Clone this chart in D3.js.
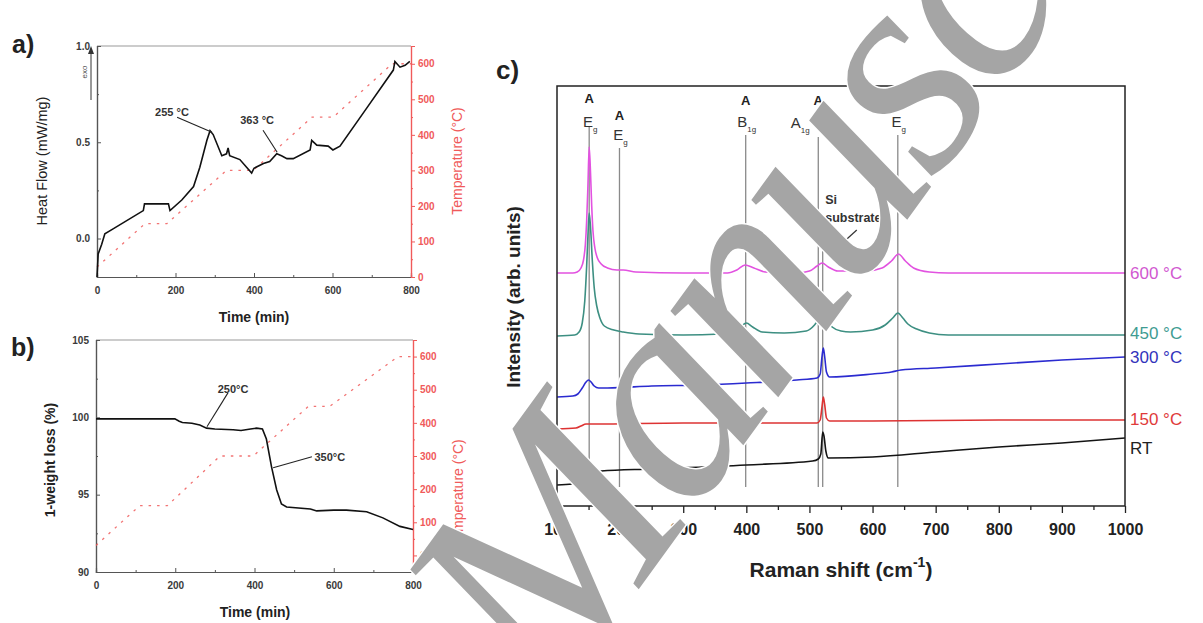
<!DOCTYPE html>
<html><head><meta charset="utf-8">
<script src="https://cdn.jsdelivr.net/npm/d3@7"></script>
<style>
body{margin:0;background:#fff}
svg{display:block}
text{font-family:"Liberation Sans",Arial,sans-serif}
</style>
</head><body>
<svg id="chart" width="1203" height="623"></svg>
<script>
// ---------------- DATA ----------------
// panel a: DSC heat flow (time min, mW/mg)
const heatFlow = [[0,-0.2],[3,-0.08],[12,-0.03],[20,0.025],[41,0.05],[118,0.145],[121,0.18],[182,0.18],[186,0.145],[216,0.2],[246,0.27],[262,0.37],[280,0.51],[288,0.56],[296,0.54],[318,0.43],[330,0.44],[334,0.47],[338,0.43],[364,0.41],[394,0.34],[400,0.365],[424,0.39],[440,0.40],[458,0.44],[470,0.43],[484,0.415],[500,0.415],[543,0.46],[547,0.51],[560,0.485],[589,0.48],[601,0.46],[619,0.48],[688,0.68],[755,0.875],[759,0.92],[772,0.89],[785,0.9],[797,0.92]];
const tempProgramA = [[0,28],[122,150],[178,150],[330,300],[398,300],[548,450],[602,450],[752,600],[800,600]];
// panel b: TGA (time min, %)
const weightLoss = [[0,99.9],[199,99.9],[210,99.75],[218,99.67],[242,99.62],[262,99.5],[279,99.3],[300,99.25],[346,99.2],[366,99.15],[390,99.25],[405,99.3],[420,99.25],[430,98.6],[443,96.8],[456,95.3],[468,94.4],[481,94.2],[541,94.07],[557,93.95],[600,94.0],[632,94.0],[683,93.9],[724,93.5],[767,92.95],[800,92.75]];
const tempProgramB = [[0,30],[110,150],[180,150],[313,300],[397,300],[536,450],[590,450],[762,600],[800,600]];
const timeTicks = [0,200,400,600,800];
const heatTicks = [0,0.5,1.0];
const weightTicks = [90,95,100,105];
const tempTicks = [0,100,200,300,400,500,600];
// annotations [text x, text y, line x1, y1, x2, y2] in data units
const annotA = [{t:"255 °C", p:[191,0.656,204,0.63,293,0.552]},{t:"363 °C", p:[408,0.615,423,0.5625,459,0.448]}];
const annotB = [{t:"250°C", p:[346,101.84,333,101.58,280,99.39]},{t:"350°C", p:[590,97.45,545,97.45,447,96.74]}];

// panel c: Raman spectra (cm-1, arb. units)
const series600 = [[100,233],[125,233],[132,234],[138,238],[142,246],[145,262],[147,285],[149,320],[151,359],[153,335],[155,300],[157,275],[160,258],[164,248],[170,242],[180,238],[195,236],[205,236],[225,234],[300,233],[370,233],[385,236],[398,241],[412,238],[430,234],[480,233],[500,235],[512,240],[520,243],[530,239],[545,235],[590,235],[615,238],[630,245],[641,252],[652,245],[665,238],[690,234],[720,233],[1000,233]];
const series450 = [[100,170],[128,171],[135,174],[140,183],[144,205],[147,240],[149,270],[151,293],[153,280],[156,245],[159,218],[163,200],[168,188],[175,180],[190,176],[205,174],[230,172],[300,171],[360,172],[380,175],[392,180],[400,183],[410,179],[425,174],[460,173],[495,175],[508,181],[515,187],[522,194],[528,186],[536,179],[550,175],[565,174],[600,176],[620,181],[632,188],[640,193],[648,188],[656,182],[670,177],[690,173],[720,171],[1000,171]];
const series300 = [[100,109],[125,110],[133,112],[140,118],[146,124],[150,126],[154,124],[159,120],[166,118],[180,118],[250,120],[330,121],[400,123],[480,126],[512,128],[517,132],[520,150],[522,158],[524,150],[527,134],[532,129],[600,132],[630,134],[645,136],[700,138],[800,142],[900,146],[1000,149]];
const series150 = [[100,77],[130,78],[138,80],[146,82],[160,82],[300,83],[512,83],[517,86],[520,100],[522,109],[524,102],[527,88],[532,85],[600,85],[800,86],[1000,86]];
const seriesRT = [[100,21],[124,22],[132,24],[138,28],[145,32],[152,34],[170,35],[250,37],[400,41],[505,45],[514,47],[518,52],[521,74],[523,70],[526,55],[530,48],[600,49],[700,54],[800,59],[900,63],[1000,68]];
const seriesNames = ["600 °C","450 °C","300 °C","150 °C","RT"];
const seriesLabelLevel = [233,173,149,87,58];
const ramanTicks = [100,200,300,400,500,600,700,800,900,1000];
// anatase modes: shift, main letter, subscript
const modes = [{s:151,m:"E",sub:"g"},{s:199,m:"E",sub:"g"},{s:399,m:"B",sub:"1g"},{s:514,m:"A",sub:"1g",extra:" + B",sub2:"1g"},{s:640,m:"E",sub:"g"}];
const siPeak = 521;

// ---------------- DRAW ----------------
const svg = d3.select("#chart");
const RED = "#f05a5a";

function panelFrame(g, x0, x1, y0, y1){
  g.append("line").attr("x1",x0).attr("x2",x1).attr("y1",y0).attr("y2",y0).attr("stroke","#9a9a9a").attr("stroke-width",1.2);
}
function styleAxis(sel, color, size){
  sel.selectAll("path").attr("stroke",color).attr("stroke-width",1.2);
  sel.selectAll("line").attr("stroke",color);
  sel.selectAll("text").attr("fill",color==="#555"?"#3a3a3a":color).attr("font-size",size).attr("font-weight","bold").attr("font-family","'Liberation Sans',Arial,sans-serif");
}

// ---- Panel a ----
const xA = d3.scaleLinear().domain([0,800]).range([97,411]);
const yA = d3.scaleLinear().domain([-0.2,1.0]).range([277,46]);
const tA = d3.scaleLinear().domain([0,650]).range([277,46]);
const gA = svg.append("g");
panelFrame(gA,97,411,46,277);
gA.append("g").attr("transform","translate(0,277)").call(d3.axisBottom(xA).tickValues([100,300,500,700]).tickSize(-2).tickFormat("")).call(s=>styleAxis(s,"#555",10));
gA.append("g").attr("transform","translate(0,277)").call(d3.axisBottom(xA).tickValues(timeTicks).tickSize(-4).tickPadding(10)).call(s=>styleAxis(s,"#555",10));
gA.append("g").attr("transform","translate(97,0)").call(d3.axisLeft(yA).tickValues([-0.25,0.25,0.75]).tickSize(-2).tickFormat("")).call(s=>styleAxis(s,"#555",10));
gA.append("g").attr("transform","translate(97,0)").call(d3.axisLeft(yA).tickValues(heatTicks).tickFormat(d3.format(".1f")).tickSize(-4).tickPadding(7)).call(s=>styleAxis(s,"#555",10));
gA.append("g").attr("transform","translate(411,0)").call(d3.axisRight(tA).tickValues([50,150,250,350,450,550,650]).tickSize(2).tickFormat("")).call(s=>styleAxis(s,RED,10));
gA.append("g").attr("transform","translate(411,0)").call(d3.axisRight(tA).tickValues(tempTicks).tickSize(4).tickPadding(3)).call(s=>styleAxis(s,RED,10));
gA.append("path").datum(tempProgramA).attr("fill","none").attr("stroke",RED).attr("stroke-width",1.3).attr("stroke-dasharray","2.5,6").attr("opacity",0.85)
  .attr("d",d3.line().x(d=>xA(d[0])).y(d=>tA(d[1])));
gA.append("path").datum(heatFlow).attr("fill","none").attr("stroke","#111").attr("stroke-width",1.6)
  .attr("d",d3.line().x(d=>xA(d[0])).y(d=>yA(d[1])));
annotA.forEach(a=>{
  gA.append("line").attr("x1",xA(a.p[2])).attr("y1",yA(a.p[3])).attr("x2",xA(a.p[4])).attr("y2",yA(a.p[5])).attr("stroke","#222").attr("stroke-width",1.1);
  gA.append("text").attr("x",xA(a.p[0])).attr("y",yA(a.p[1])).attr("dy","0.35em").attr("text-anchor","middle").attr("font-size",11).attr("font-weight","bold").attr("fill","#333").text(a.t);
});
// exo arrow
gA.append("line").attr("x1",91).attr("x2",91).attr("y1",100).attr("y2",50).attr("stroke","#333").attr("stroke-width",1);
gA.append("path").attr("d","M88,54 L91,46 L94,54 Z").attr("fill","#333");
gA.append("text").attr("transform","translate(84,72) rotate(-90)").attr("text-anchor","middle").attr("dy","0.35em").attr("font-size",8).attr("fill","#555").text("exo");
gA.append("text").attr("transform","translate(42,161) rotate(-90)").attr("text-anchor","middle").attr("dy","0.35em").attr("font-size",14.5).attr("fill","#222").text("Heat Flow (mW/mg)");
gA.append("text").attr("transform","translate(457,161) rotate(-90)").attr("text-anchor","middle").attr("dy","0.35em").attr("font-size",14).attr("fill",RED).text("Temperature (°C)");
gA.append("text").attr("x",254).attr("y",317).attr("dy","0.35em").attr("text-anchor","middle").attr("font-size",14).attr("font-weight","bold").attr("fill","#222").text("Time (min)");
gA.append("text").attr("x",12).attr("y",53).attr("font-size",25).attr("font-weight","bold").attr("fill","#222").text("a)");

// ---- Panel b ----
const xB = d3.scaleLinear().domain([0,800]).range([96,413]);
const yB = d3.scaleLinear().domain([90,105]).range([572,340]);
const tB = d3.scaleLinear().domain([-50,650]).range([572,340]);
const gB = svg.append("g");
panelFrame(gB,96,413,340,572);
gB.append("g").attr("transform","translate(0,572)").call(d3.axisBottom(xB).tickValues([100,300,500,700]).tickSize(-2).tickFormat("")).call(s=>styleAxis(s,"#555",10));
gB.append("g").attr("transform","translate(0,572)").call(d3.axisBottom(xB).tickValues(timeTicks).tickSize(-4).tickPadding(10)).call(s=>styleAxis(s,"#555",10));
gB.append("g").attr("transform","translate(96,0)").call(d3.axisLeft(yB).tickValues([92.5,97.5,102.5]).tickSize(-2).tickFormat("")).call(s=>styleAxis(s,"#555",10));
gB.append("g").attr("transform","translate(96,0)").call(d3.axisLeft(yB).tickValues(weightTicks).tickSize(-4).tickPadding(7)).call(s=>styleAxis(s,"#555",10));
gB.append("g").attr("transform","translate(413,0)").call(d3.axisRight(tB).tickValues([-50,50,150,250,350,450,550,650]).tickSize(2).tickFormat("")).call(s=>styleAxis(s,RED,10));
gB.append("g").attr("transform","translate(413,0)").call(d3.axisRight(tB).tickValues(tempTicks).tickSize(4).tickPadding(3)).call(s=>styleAxis(s,RED,10));
gB.append("path").datum(tempProgramB).attr("fill","none").attr("stroke",RED).attr("stroke-width",1.3).attr("stroke-dasharray","2.5,6").attr("opacity",0.85)
  .attr("d",d3.line().x(d=>xB(d[0])).y(d=>tB(d[1])));
gB.append("path").datum(weightLoss).attr("fill","none").attr("stroke","#111").attr("stroke-width",1.6)
  .attr("d",d3.line().x(d=>xB(d[0])).y(d=>yB(d[1])));
annotB.forEach(a=>{
  gB.append("line").attr("x1",xB(a.p[2])).attr("y1",yB(a.p[3])).attr("x2",xB(a.p[4])).attr("y2",yB(a.p[5])).attr("stroke","#222").attr("stroke-width",1.1);
  gB.append("text").attr("x",xB(a.p[0])).attr("y",yB(a.p[1])).attr("dy","0.35em").attr("text-anchor","middle").attr("font-size",11).attr("font-weight","bold").attr("fill","#333").text(a.t);
});
gB.append("text").attr("transform","translate(50,460) rotate(-90)").attr("text-anchor","middle").attr("dy","0.35em").attr("font-size",14).attr("font-weight","bold").attr("fill","#222").text("1-weight loss (%)");
gB.append("text").attr("transform","translate(458,493) rotate(-90)").attr("text-anchor","middle").attr("dy","0.35em").attr("font-size",14).attr("fill",RED).text("Temperature (°C)");
gB.append("text").attr("x",255).attr("y",612).attr("dy","0.35em").attr("text-anchor","middle").attr("font-size",14).attr("font-weight","bold").attr("fill","#222").text("Time (min)");
gB.append("text").attr("x",11).attr("y",356).attr("font-size",25).attr("font-weight","bold").attr("fill","#222").text("b)");

// ---- Panel c ----
const xC = d3.scaleLinear().domain([100,1000]).range([557,1125]);
const yC = d3.scaleLinear().domain([0,420]).range([506,86]);
const gC = svg.append("g");
const lineTop = [379,358,371,369,371];
modes.forEach((m,i)=>{
  gC.append("line").attr("x1",xC(m.s)).attr("x2",xC(m.s)).attr("y1",yC(lineTop[i])).attr("y2",yC(19)).attr("stroke","#8a8a8a").attr("stroke-width",1.3);
});
gC.append("line").attr("x1",xC(siPeak)).attr("x2",xC(siPeak)).attr("y1",yC(268)).attr("y2",yC(19)).attr("stroke","#8a8a8a").attr("stroke-width",1.3);

const allSeries = [series600,series450,series300,series150,seriesRT];
const colors = ["#e252e0","#3d8f82","#2b2bd0","#dd3333","#141414"];
const labelColors = ["#d158d0","#3f9c92","#3333bb","#e03a3a","#222"];
const lineC = d3.line().x(d=>xC(d[0])).y(d=>yC(d[1])).curve(d3.curveMonotoneX);
allSeries.forEach((s,i)=>{
  gC.append("path").datum(s).attr("fill","none").attr("stroke",colors[i]).attr("stroke-width",1.6).attr("d",lineC);
  gC.append("text").attr("x",xC(1000)+5).attr("y",yC(seriesLabelLevel[i])).attr("dy","0.35em").attr("font-size",17).attr("fill",labelColors[i]).text(seriesNames[i]);
});
gC.append("rect").attr("x",557).attr("y",86).attr("width",568).attr("height",420).attr("fill","none").attr("stroke","#222").attr("stroke-width",1.5);
gC.append("g").attr("transform","translate(0,506)").call(d3.axisBottom(xC).tickValues([150,250,350,450,550,650,750,850,950]).tickSize(4).tickFormat("")).call(s=>{s.select("path").remove();s.selectAll("line").attr("stroke","#222").attr("stroke-width",1.3);});
gC.append("g").attr("transform","translate(0,506)").call(d3.axisBottom(xC).tickValues(ramanTicks).tickFormat(d3.format("d")).tickSize(7).tickPadding(11))
  .call(s=>{s.select("path").remove();s.selectAll("line").attr("stroke","#222").attr("stroke-width",1.3);
    s.selectAll("text").attr("font-size",16).attr("font-weight","bold").attr("fill","#222").attr("font-family","'Liberation Sans',Arial,sans-serif");});

// mode labels
const labY = [122,135,122,123,122];
const aY = [98,115,100,100,100];
modes.forEach((m,i)=>{
  gC.append("text").attr("x",xC(m.s)).attr("y",aY[i]).attr("dy","0.35em").attr("text-anchor","middle").attr("font-size",13).attr("font-weight","bold").attr("fill","#222").text("A");
  const t = gC.append("text").attr("x",xC(m.s)+(m.extra?0:1)).attr("y",labY[i]).attr("dy","0.35em").attr("text-anchor","middle").attr("font-size",15).attr("fill","#333");
  t.append("tspan").text(m.m);
  t.append("tspan").attr("font-size",8).attr("dy",5).text(m.sub);
  if(m.extra){
    t.append("tspan").attr("dy",-5).text(m.extra);
    t.append("tspan").attr("font-size",8).attr("dy",5).text(m.sub2);
  }
});
// Si substrate
gC.append("text").attr("x",xC(525)).attr("y",yC(306)).attr("dy","0.35em").attr("font-size",12.5).attr("font-weight","bold").attr("fill","#333").text("Si");
gC.append("text").attr("x",xC(525)).attr("y",yC(288)).attr("dy","0.35em").attr("font-size",12.5).attr("font-weight","bold").attr("fill","#333").text("substrate");
gC.append("line").attr("x1",xC(575)).attr("y1",yC(276)).attr("x2",xC(535)).attr("y2",yC(253)).attr("stroke","#333").attr("stroke-width",1.2);
{
  const x2 = xC(532), y2 = yC(251.5);
  const ang = Math.atan2(yC(251.5)-yC(276), xC(532)-xC(575));
  const L=8, W=3.5;
  const p = [[x2,y2],[x2-L*Math.cos(ang)+W*Math.sin(ang), y2-L*Math.sin(ang)-W*Math.cos(ang)],[x2-L*Math.cos(ang)-W*Math.sin(ang), y2-L*Math.sin(ang)+W*Math.cos(ang)]];
  gC.append("path").attr("d","M"+p.map(q=>q.join(",")).join("L")+"Z").attr("fill","#333");
}
gC.append("text").attr("transform","translate(513,297) rotate(-90)").attr("text-anchor","middle").attr("dy","0.35em").attr("font-size",19).attr("font-weight","bold").attr("fill","#222").text("Intensity (arb. units)");
{
  const t = gC.append("text").attr("x",841).attr("y",577).attr("text-anchor","middle").attr("font-size",21).attr("font-weight","bold").attr("fill","#222");
  t.append("tspan").text("Raman shift (cm");
  t.append("tspan").attr("font-size",14).attr("dy",-10).text("-1");
  t.append("tspan").attr("dy",10).text(")");
}
gC.append("text").attr("x",496).attr("y",79).attr("font-size",26).attr("font-weight","bold").attr("fill","#222").text("c)");

// watermark
svg.append("text").attr("transform","translate(551,710) rotate(-54)")
  .attr("font-family","'Liberation Serif','Times New Roman',serif").attr("font-style","italic").attr("font-size",300)
  .attr("letter-spacing",-12)
  .attr("fill","#a5a5a5").attr("stroke","#fff").attr("stroke-width",3).attr("paint-order","stroke")
  .style("font-family","'Liberation Serif','Times New Roman',serif").text("Manuscript");
</script>
</body></html>
